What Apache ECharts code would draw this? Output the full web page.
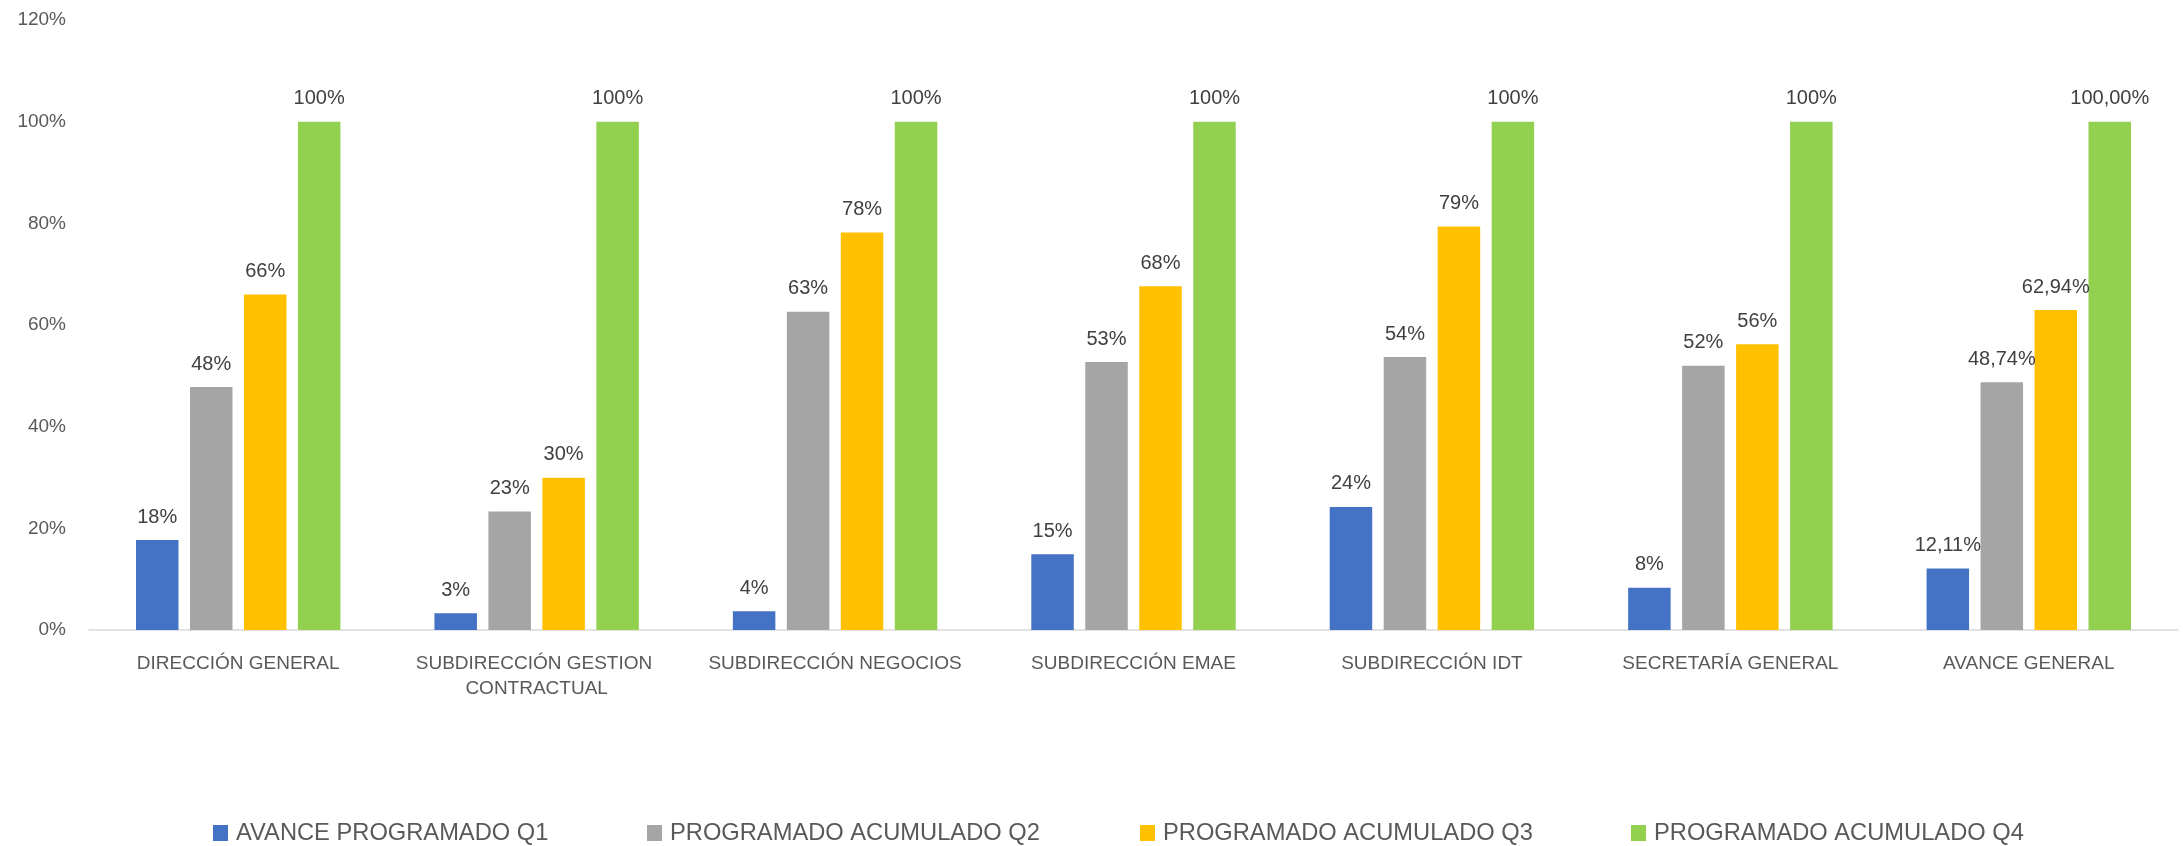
<!DOCTYPE html>
<html>
<head>
<meta charset="utf-8">
<script src="https://cdn.jsdelivr.net/npm/echarts@6/dist/echarts.min.js"></script>
<style>
  html, body { margin: 0; padding: 0; background: #ffffff; }
  #chart { width: 2183px; height: 846px; }
</style>
</head>
<body>
<div id="chart"></div>
<script>
// categories along the x axis
const categories = [
  'DIRECCIÓN GENERAL',
  'SUBDIRECCIÓN GESTION CONTRACTUAL',
  'SUBDIRECCIÓN NEGOCIOS',
  'SUBDIRECCIÓN EMAE',
  'SUBDIRECCIÓN IDT',
  'SECRETARÍA GENERAL',
  'AVANCE GENERAL'
]

// decimals shown in the data labels, per category
const labelDecimals = [0, 0, 0, 0, 0, 0, 2]

// values in percent
const avanceQ1 = [17.7, 3.3, 3.7, 14.9, 24.2, 8.3, 12.11]
const acumuladoQ2 = [47.8, 23.3, 62.6, 52.7, 53.7, 52.0, 48.74]
const acumuladoQ3 = [66.0, 29.95, 78.2, 67.6, 79.4, 56.2, 62.94]
const acumuladoQ4 = [100, 100, 100, 100, 100, 100, 100.00]

const seriesNames = [
  'AVANCE PROGRAMADO Q1',
  'PROGRAMADO ACUMULADO Q2',
  'PROGRAMADO ACUMULADO Q3',
  'PROGRAMADO ACUMULADO Q4'
]
const seriesColors = ['#4472C4', '#A5A5A5', '#FFC000', '#92D050']
const seriesData = [avanceQ1, acumuladoQ2, acumuladoQ3, acumuladoQ4]

// legend entries are spread like the Excel legend, one block each
const legendLeft = [208, 642, 1135, 1626]

const FONT = 'Liberation Sans'
const TEXT = '#595959'

const formatLabel = (p) => {
  const d = labelDecimals[p.dataIndex]
  return p.value.toFixed(d).replace('.', ',') + '%'
}

const chart = echarts.init(document.getElementById('chart'))

chart.setOption({
  backgroundColor: '#ffffff',
  animation: false,
  textStyle: { fontFamily: FONT },
  grid: { left: 89, right: 5, top: 20, bottom: 216 },
  legend: seriesNames.map((name, i) => ({
    left: legendLeft[i],
    top: 816,
    itemWidth: 15,
    itemHeight: 16,
    icon: 'rect',
    textStyle: { color: TEXT, fontSize: 23.7, fontFamily: FONT, padding: [0, 0, 0, 3] },
    data: [name]
  })),
  xAxis: {
    type: 'category',
    data: categories,
    axisLine: { show: true, lineStyle: { color: '#D9D9D9', width: 1.5 } },
    axisTick: { show: false },
    axisLabel: {
      color: TEXT,
      fontSize: 19,
      fontFamily: FONT,
      margin: 21,
      lineHeight: 25,
      width: 260,
      overflow: 'break',
      interval: 0
    }
  },
  yAxis: {
    type: 'value',
    min: 0,
    max: 120,
    interval: 20,
    splitLine: { show: false },
    axisLine: { show: false },
    axisTick: { show: false },
    axisLabel: {
      color: TEXT,
      fontSize: 19,
      fontFamily: FONT,
      margin: 23,
      formatter: (v) => v + '%'
    }
  },
  series: seriesNames.map((name, i) => ({
    name: name,
    type: 'bar',
    data: seriesData[i],
    barWidth: 42.5,
    barGap: '27%',
    itemStyle: { color: seriesColors[i] },
    label: {
      show: true,
      position: 'top',
      distance: 13,
      color: '#404040',
      fontSize: 20,
      fontFamily: FONT,
      formatter: formatLabel
    }
  }))
})
</script>
</body>
</html>
